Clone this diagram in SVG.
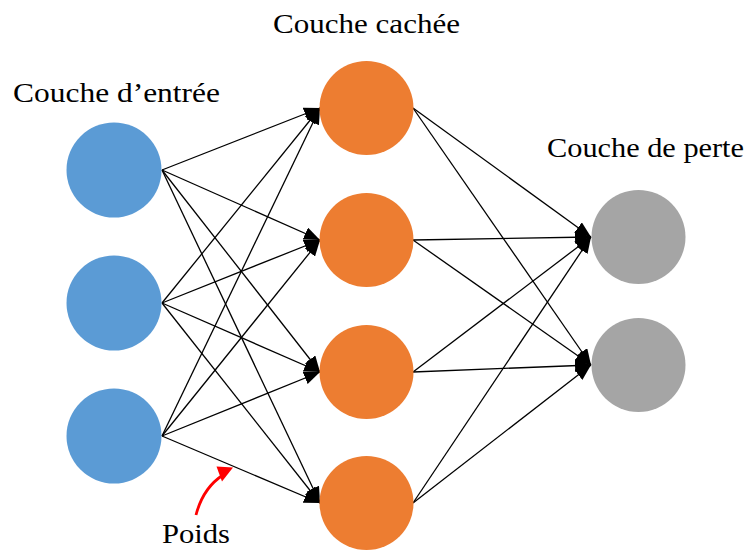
<svg xmlns="http://www.w3.org/2000/svg" width="756" height="550" viewBox="0 0 756 550">
<style>
.lbl{font-family:"Liberation Serif","DejaVu Serif",serif;font-size:28px;fill:#000}
.in{fill:#5B9BD5}
.hid{fill:#ED7D31}
.out{fill:#A5A5A5}
.e{stroke:#000;stroke-width:1.3;fill:none;marker-end:url(#ah)}
</style>
<defs>
<marker id="ah" markerUnits="userSpaceOnUse" markerWidth="17" markerHeight="13" refX="16" refY="6.5" orient="auto">
<path d="M0,0 L16,6.5 L0,13 z" fill="#000"/>
</marker>
</defs>
<rect width="756" height="550" fill="#fff"/>
<g id="connectors">
<line class="e" x1="162" y1="170" x2="320" y2="108"/>
<line class="e" x1="162" y1="170" x2="320" y2="240"/>
<line class="e" x1="162" y1="170" x2="320" y2="372"/>
<line class="e" x1="162" y1="170" x2="320" y2="503"/>
<line class="e" x1="162" y1="303" x2="320" y2="108"/>
<line class="e" x1="162" y1="303" x2="320" y2="240"/>
<line class="e" x1="162" y1="303" x2="320" y2="372"/>
<line class="e" x1="162" y1="303" x2="320" y2="503"/>
<line class="e" x1="162" y1="436" x2="320" y2="108"/>
<line class="e" x1="162" y1="436" x2="320" y2="240"/>
<line class="e" x1="162" y1="436" x2="320" y2="372"/>
<line class="e" x1="162" y1="436" x2="320" y2="503"/>
<line class="e" x1="413" y1="108" x2="591" y2="237"/>
<line class="e" x1="413" y1="108" x2="591" y2="365"/>
<line class="e" x1="413" y1="240" x2="591" y2="237"/>
<line class="e" x1="413" y1="240" x2="591" y2="365"/>
<line class="e" x1="413" y1="372" x2="591" y2="237"/>
<line class="e" x1="413" y1="372" x2="591" y2="365"/>
<line class="e" x1="413" y1="503" x2="591" y2="237"/>
<line class="e" x1="413" y1="503" x2="591" y2="365"/>
</g>
<g id="input-layer">
<circle id="in1" class="in" cx="114" cy="170" r="47.5"/>
<circle id="in2" class="in" cx="114" cy="303" r="47.5"/>
<circle id="in3" class="in" cx="114" cy="436" r="47.5"/>
</g>
<g id="hidden-layer">
<circle id="h1" class="hid" cx="366.5" cy="108" r="47"/>
<circle id="h2" class="hid" cx="366.5" cy="240" r="47"/>
<circle id="h3" class="hid" cx="366.5" cy="372" r="47"/>
<circle id="h4" class="hid" cx="366.5" cy="503" r="47"/>
</g>
<g id="output-layer">
<circle id="o1" class="out" cx="638.5" cy="237" r="47"/>
<circle id="o2" class="out" cx="638.5" cy="365" r="47"/>
</g>
<g id="labels">
<text class="lbl" x="13" y="102" textLength="207" lengthAdjust="spacingAndGlyphs">Couche d’entrée</text>
<text class="lbl" x="273" y="33" textLength="187" lengthAdjust="spacingAndGlyphs">Couche cachée</text>
<text class="lbl" x="547" y="157" textLength="197" lengthAdjust="spacingAndGlyphs">Couche de perte</text>
<text class="lbl" x="162" y="543" textLength="68" lengthAdjust="spacingAndGlyphs">Poids</text>
</g>
<g id="weight-pointer">
<path d="M196,515 Q203,488 223,475" stroke="#FF0000" stroke-width="2.8" fill="none"/>
<path d="M216.5,466.5 L233,467.5 L222,481.5 z" fill="#FF0000"/>
</g>
</svg>
